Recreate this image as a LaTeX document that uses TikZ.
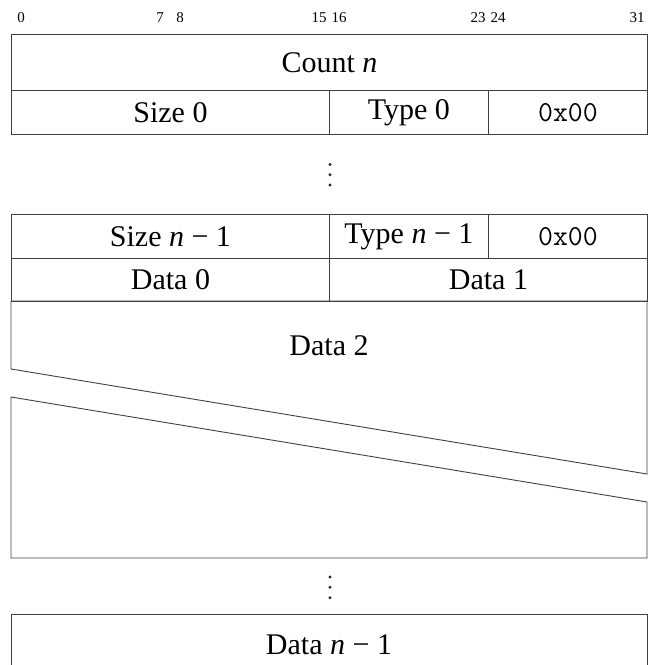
\documentclass[tikz,border=0pt]{standalone}
\usepackage{fontspec}
\setmainfont{Liberation Serif}
\begin{document}
\begin{tikzpicture}[x=1pt,y=-1pt,
  line/.style={draw=black!75,line width=0.9pt},
  cell/.style={line,rectangle,anchor=north west,inner sep=0pt,font=\fontsize{30}{34}\selectfont},
  txt/.style={inner sep=0pt,font=\fontsize{30}{34}\selectfont},
  bit/.style={inner sep=0pt,font=\fontsize{15}{17}\selectfont},
  hexv/.style={font=\fontsize{29}{33}\selectfont\ttfamily},
  dotmark/.style={circle,fill=black!85,inner sep=0pt,minimum size=3.2pt}]
\useasboundingbox (0,0) rectangle (653,665);
% bit numbers
\node[bit] (b0) at (21,18) {0};
\node[bit] (b7) at (160,18) {7};
\node[bit] (b8) at (180,18) {8};
\node[bit] (b15) at (319,18) {15};
\node[bit] (b16) at (339,18) {16};
\node[bit] (b23) at (478,18) {23};
\node[bit] (b24) at (498,18) {24};
\node[bit] (b31) at (637,18) {31};
% rows
\node[cell,minimum width=636pt,minimum height=56pt] (count) at (11,34) {Count \textit{n}};
\node[cell,minimum width=318pt,minimum height=44pt] (size0) at (11,90) {Size 0};
\node[cell,minimum width=159pt,minimum height=44pt] (type0) at (329,90) {Type 0};
\node[cell,minimum width=159pt,minimum height=44pt,hexv] (pad0) at (488,90) {0x00};
\node[dotmark] (d1a) at (330,164.5) {};
\node[dotmark] (d1b) at (330,174.8) {};
\node[dotmark] (d1c) at (330,185) {};
\node[cell,minimum width=318pt,minimum height=44pt] (sizen) at (11,214) {Size \textit{n} − 1};
\node[cell,minimum width=159pt,minimum height=44pt] (typen) at (329,214) {Type \textit{n} − 1};
\node[cell,minimum width=159pt,minimum height=44pt,hexv] (padn) at (488,214) {0x00};
\node[cell,minimum width=318pt,minimum height=43pt] (data0) at (11,258) {Data 0};
\node[cell,minimum width=318pt,minimum height=43pt] (data1) at (329,258) {Data 1};
% broken Data 2 block
\draw[line] (11,301) -- (647,301) -- (647,474) -- (11,369) -- cycle;
\node[txt] (data2) at (329,346) {Data 2};
\draw[line] (11,397) -- (647,502) -- (647,558) -- (11,558) -- cycle;
\node[dotmark] (d2a) at (330,577) {};
\node[dotmark] (d2b) at (330,587.3) {};
\node[dotmark] (d2c) at (330,597.7) {};
% last block, open at the bottom
\draw[line] (11,675) -- (11,614) -- (647,614) -- (647,675);
\node[txt] (datan) at (329,645) {Data \textit{n} − 1};
\end{tikzpicture}
\end{document}
